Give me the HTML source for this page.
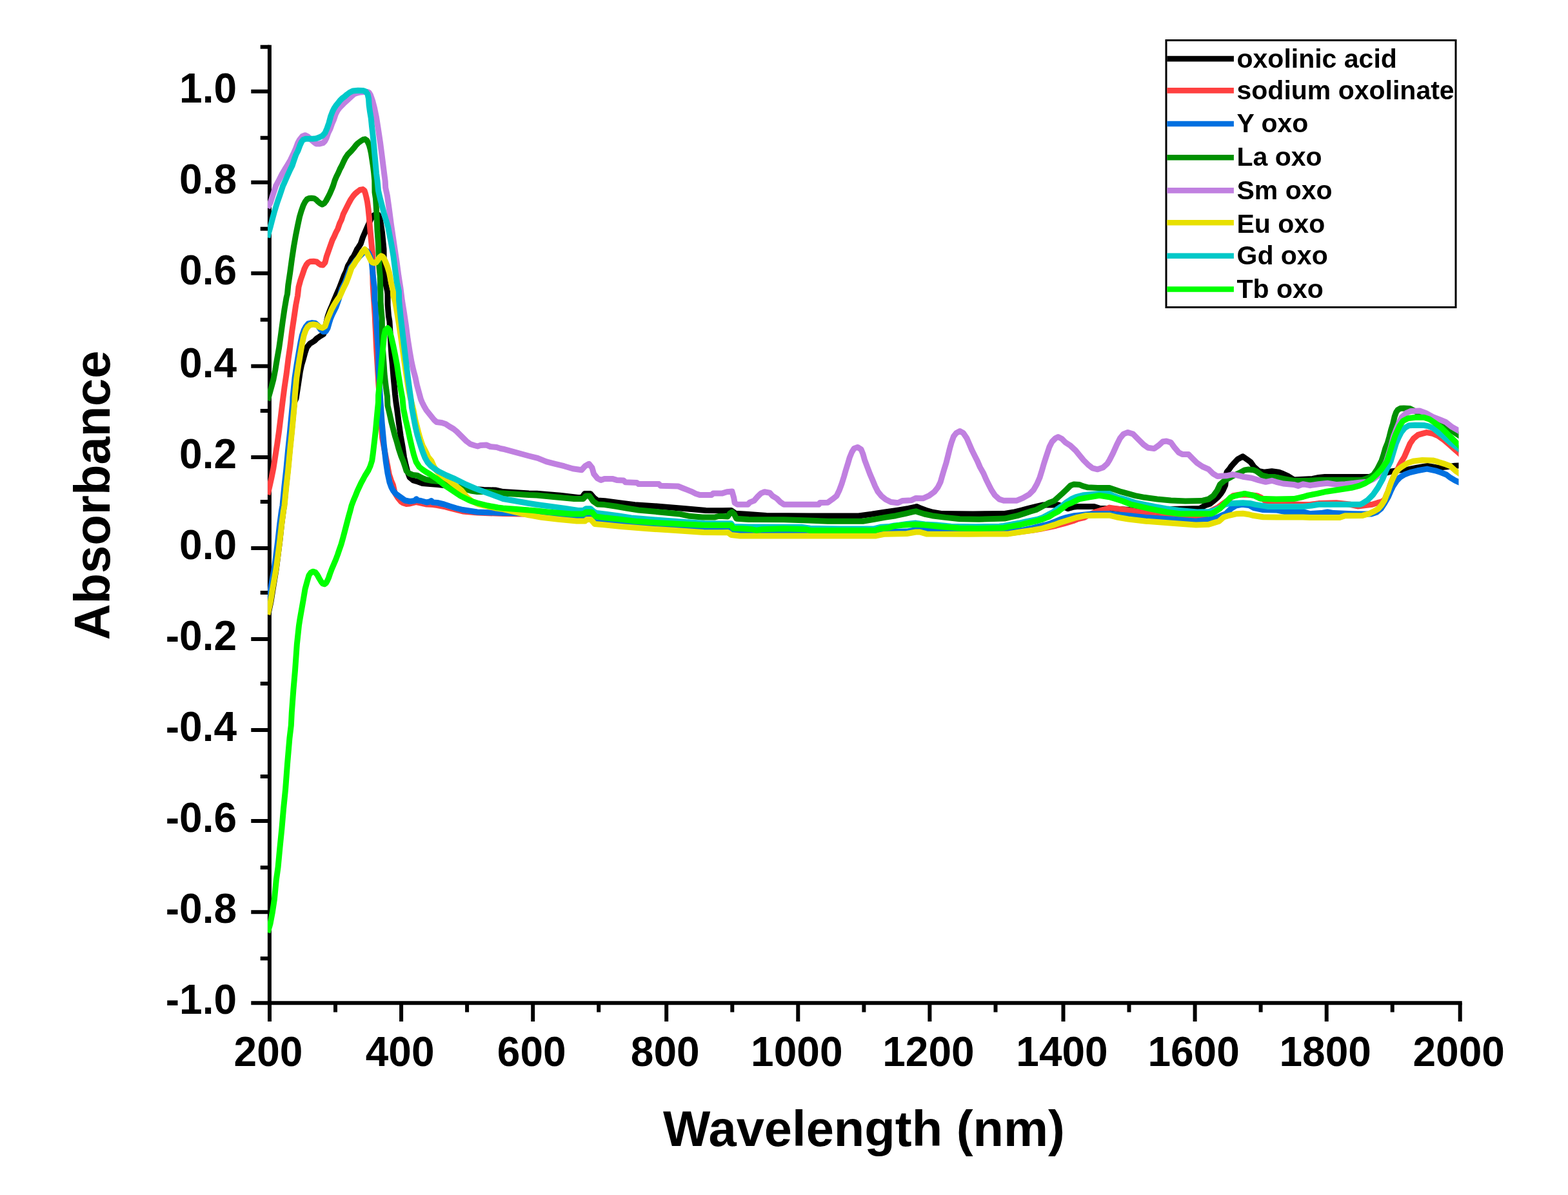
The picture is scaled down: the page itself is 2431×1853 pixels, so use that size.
<!DOCTYPE html>
<html lang="en">
<head>
<meta charset="utf-8">
<title>Absorbance vs Wavelength</title>
<style>
html,body{margin:0;padding:0;background:#fff;}
body{width:2431px;height:1853px;overflow:hidden;}
svg{display:block;}
text{font-family:"Liberation Sans", Arial, Helvetica, sans-serif;font-weight:bold;fill:#000;}
.tk{font-size:64px;}
.lg{font-size:41px;}
.ti{font-size:77.7px;}
.ax{stroke:#000;stroke-width:6;fill:none;stroke-linecap:butt;}
</style>
</head>
<body>
<svg xmlns="http://www.w3.org/2000/svg" width="2431" height="1853" viewBox="0 0 2431 1853">
<rect x="0" y="0" width="2431" height="1853" fill="#ffffff"/>

<g class="ax">
<path d="M417.9 69.7V1558.3"/>
<path d="M389.3 1555.3H2266.7"/>
<path d="M403.7 72.7H417.9M389.3 141.7H417.9M403.7 213.7H417.9M389.3 282.7H417.9M403.7 354.8H417.9M389.3 423.8H417.9M403.7 495.8H417.9M389.3 567.8H417.9M403.7 636.9H417.9M389.3 708.9H417.9M403.7 777.9H417.9M389.3 850.0H417.9M403.7 919.0H417.9M389.3 991.0H417.9M403.7 1060.0H417.9M389.3 1132.1H417.9M403.7 1204.1H417.9M389.3 1273.1H417.9M403.7 1345.2H417.9M389.3 1414.2H417.9M403.7 1486.2H417.9"/>
<path d="M418.0 1555.3V1583.9M520.0 1555.3V1569.6M622.1 1555.3V1583.9M724.1 1555.3V1569.6M826.2 1555.3V1583.9M928.2 1555.3V1569.6M1033.2 1555.3V1583.9M1135.3 1555.3V1569.6M1237.3 1555.3V1583.9M1339.4 1555.3V1569.6M1441.4 1555.3V1583.9M1543.5 1555.3V1569.6M1648.5 1555.3V1583.9M1750.5 1555.3V1569.6M1852.6 1555.3V1583.9M1954.6 1555.3V1569.6M2056.7 1555.3V1583.9M2158.7 1555.3V1569.6M2263.7 1555.3V1583.9"/>
</g>
<g class="tk" text-anchor="end">
<text x="367" y="158.6">1.0</text>
<text x="367" y="299.6">0.8</text>
<text x="367" y="440.7">0.6</text>
<text x="367" y="584.7">0.4</text>
<text x="367" y="725.8">0.2</text>
<text x="367" y="866.9">0.0</text>
<text x="367" y="1007.9">-0.2</text>
<text x="367" y="1149.0">-0.4</text>
<text x="367" y="1290.0">-0.6</text>
<text x="367" y="1431.1">-0.8</text>
<text x="367" y="1572.1">-1.0</text>
</g>
<g class="tk" text-anchor="middle">
<text x="416.0" y="1653">200</text>
<text x="620.1" y="1653">400</text>
<text x="824.2" y="1653">600</text>
<text x="1031.2" y="1653">800</text>
<text x="1235.3" y="1653">1000</text>
<text x="1439.4" y="1653">1200</text>
<text x="1646.5" y="1653">1400</text>
<text x="1850.6" y="1653">1600</text>
<text x="2054.7" y="1653">1800</text>
<text x="2261.7" y="1653">2000</text>
</g>
<text class="ti" text-anchor="middle" x="1339.5" y="1777">Wavelength (nm)</text>
<text class="ti" text-anchor="middle" transform="translate(170.2 768) rotate(-90)">Absorbance</text>
<defs><clipPath id="cp"><rect x="415.0" y="0" width="1846.5" height="1552.0"/></clipPath></defs>
<g clip-path="url(#cp)" fill="none" stroke-width="9.0" stroke-linejoin="round" stroke-linecap="butt">
<path stroke="#000000" d="M415 956L420 933L422.7 916L425.5 899L428.3 882L430.9 861.5L433.8 838.5L436.6 812.5L439.3 792L440.5 784L443.3 755L446.3 728L449.1 698L452.1 669L455.1 637L456.3 624L459 618L462.4 596L465.4 576L467.5 566L469.7 558.7L472.7 547.7L475.7 538.7L480.7 532.7L484 530.8L487.6 528.5L491 525L496.6 521.1L501.6 518.1L504 512L505.5 502L508.1 490.6L511.1 482.1L514.1 475.1L517.1 467.6L520.1 460.6L522 456L525.5 448L530.5 435L533.5 427L536.5 421L539.5 412L542.5 407L545.5 401L548 398L551 392L553.5 386.5L556 383L559.2 378L562.5 368L566 360L569 353L573 344L576.5 337L580 333.5L583.5 332.5L586.5 333L589.5 341.5L592.5 360.5L595 386.5L595.2 408L595.5 423.5L597.5 438L600.5 451.5L601 456L601.1 473L602.5 490L603.9 498L605 516L606 536L607.1 552L608.5 566L610.1 586L611.5 600L612.6 612L614 624L615.5 634L618.2 655L621.2 676L624.2 693L626.5 709L629.4 722L632 732L635 740L641 745L648 747L655 749.5L667 750.5L680 751.5L700 754L730 758L750 759.6L768 760L780 762.6L820 764.9L832.3 765.3L868.3 768.3L896.2 771.4L903 770.3L906.4 765.5L915.3 765.5L920.7 771.7L926.2 776L937.7 776.8L960.2 779.6L984 782.7L1024.2 785.4L1060.2 788.4L1094.3 791.4L1120 791.8L1133.6 791.4L1140.4 796.2L1157.4 797.3L1188.1 799.6L1256.1 800L1331 800L1351.4 797.3L1369.1 794.5L1390.2 791.4L1408.6 788.4L1420 786L1421.4 785.4L1426.8 788.1L1435.7 791.3L1445.9 794.3L1460.8 796.6L1508.5 797L1556.1 796.6L1571.1 794.3L1583.3 791.3L1593.5 788.6L1606.5 785.4L1617.4 783L1640.5 782.7L1648.7 785.7L1655.5 788.7L1663.6 786.4L1671.8 785.4L1696.3 785.4L1705.8 788.6L1720 788.6L1758.1 791L1815.3 789.4L1860.2 788.6L1867.7 784.1L1876.5 780.9L1883.3 775.2L1888.1 771.1L1892.9 765.4L1896.3 760L1899.7 752.4L1900.4 745.3L1900.8 737.1L1902.1 731.7L1905.8 727.6L1908.5 723.5L1913.3 718.1L1918.7 712.3L1926.9 707.8L1935.1 713.7L1939.1 716.7L1943.9 723.5L1951.4 730.3L1959.6 732.1L1971.8 730.7L1982.7 732.1L1989.5 734.8L1996.3 737.8L2005.8 743.9L2019.9 743.2L2034.9 742.5L2044.4 740.5L2054 739.5L2123.4 739.5L2139.7 735.7L2158.8 730.7L2171 728.9L2183.3 727.9L2196.9 725.2L2213.2 722.5L2228.2 725.2L2241.8 724.1L2255.4 722.2L2260.9 722.1L2268.9 722"/>
<path stroke="#ff4040" d="M415 767L418 754L420.9 741L423.9 726L427 706L429.7 689L432.6 668.5L435.4 645.5L438 624L441.1 600L444.1 580L447.1 556L450 536L452.7 513.5L455.7 493.5L458.7 473L461.5 458.5L463 445L466 434L469 425.5L472 416.5L475 410.5L478 407L481.5 405.4L486 405.2L491 406L494 408.5L497 410.5L500.5 411L504 407L506.2 398L509.2 389.5L512.2 381L515.2 372.5L518.2 366.5L520.8 360.5L523.7 355L526.6 346.5L529.5 340.5L532.2 332L535.2 326L538.2 320L541 314.5L544 309L547.5 304L550.5 300.5L554 297.5L558 294.5L562.5 293.6L565 295.5L566.5 300L568 306L569.5 313L571 324L572.2 336L573.5 352L575 368L576.5 383L577.5 393L577.8 418L578.1 441L579 456L581.1 487.5L582.5 516L583.6 540.5L585.2 566L586.6 591L588 611L589 624L590 644L592.6 678.5L596.5 700L600.4 720L603.4 736L606.4 745L609.4 752L612 764L617 772L622 778L625 780L630 781.5L635.5 781L645.5 778.5L652.5 780L661.5 782L671 782.5L678 783.5L688.5 785.5L697.5 788L707.5 790.5L717.5 793L740 795L780 796.5L820 797.3L824.8 797.9L839.7 800.7L865.6 803.7L894.2 806.4L907.1 806.4L909.8 803.8L916 803.8L922.1 810.9L936.4 812.1L963.6 814.8L1001 817.9L1043.9 820.7L1090.9 823.8L1120 824.1L1128.2 823.4L1133.6 827.5L1147.2 828.8L1358.2 828.8L1371.8 826.1L1405.8 825.4L1420 823L1426.1 823.8L1436.3 826.5L1501.7 827.2L1562.9 827.2L1581.3 824.8L1601.7 822L1616 819.7L1626.2 817.7L1637.8 815L1651.4 811.3L1663.6 807.7L1670.5 805L1681.3 802.3L1689.5 797.9L1697.7 794L1707.2 791.3L1716.7 788.6L1720 787.1L1730.2 788.6L1749.9 791.3L1768.3 794L1784.7 796.7L1800.3 799.5L1815.3 801.1L1842.5 802.5L1860.9 802.5L1872.5 797L1879.3 791.3L1888.1 787.2L1897 780.4L1903.8 775.6L1911.9 768.6L1920.1 767.3L1929.6 767.1L1940.5 767.7L1948.7 768.6L1954.8 771.3L1962.3 777.3L1978.6 780.7L2020 782.4L2030.8 782.4L2044.4 780.6L2071.7 779.7L2092.1 782L2105.7 785L2119.3 783.3L2127.5 782.3L2135.6 779.7L2142.5 777.9L2146.8 774.5L2149.3 768.4L2152 762.2L2154.7 754.1L2157.4 746.6L2160.8 739.1L2163.5 733L2167 727.5L2169.7 721.4L2173.1 715.3L2177.2 708.5L2181.9 697.6L2186 688.1L2191.5 679.9L2198.3 674.4L2205.1 672.4L2211.9 670.6L2221.4 672.4L2229.6 675.8L2239.1 682.6L2248.6 690.8L2255.4 696.9L2260.9 701.7L2268.9 708.7"/>
<path stroke="#0070e0" d="M415 930.5L417 924L419.1 916L422.1 899L425.1 882L427.9 861.5L430.8 838.5L433.7 812.5L436.5 792L438 784L440.8 755L443.8 728L446.6 698L449.6 669L452.6 637L453.8 624L454 616L457 586L460 566L463 548L466 531L468.4 520L471.2 512L474.2 506.5L478 502L484 500.6L489 501.2L493 505L497 511L501 514.2L505 514L508 509L510 502L512.5 494L515 488L518 482L521 476L523.5 469L525.5 463L527 458L530 448L532.5 443L535 438L538 430L540.5 423L543.5 415.5L547.5 410L551 405L554.5 401L558 397L562 393L565.5 390L568.5 389L571.5 392.5L574.5 399L576.5 408L578 425L579.5 438L580.7 447L580.8 456L580.9 466L582.2 475L583.5 499.5L585 524L586.6 546L586.8 573.5L588 591L589.4 614.5L590 624L592.2 656L595.2 689L598.2 715.5L601 734L604 748L606.7 755.5L609.7 761L614 766L621 771L628 776L635.5 777.5L643 776.5L645.5 773.7L648 776L652.5 776.5L661.5 779L666 778L668.5 776.5L671 779L678 779.5L688.5 782L697.5 785L707.5 788L717.5 790.5L740 794L780 795.5L820 795.9L824.8 796.6L839.7 799.3L865.6 802.3L894.2 805L907.1 805L909.8 802.4L916 802.4L922.1 809.5L936.4 810.7L963.6 813.5L1001 816.6L1043.9 819.3L1090.9 822.4L1120 822.7L1128.2 822L1133.6 826.1L1147.2 827.5L1358.2 827.5L1371.8 824.8L1405.8 824.1L1420 821.6L1427.5 821.1L1452 824.1L1515.3 824.9L1564.3 823.5L1583.3 822.6L1597.6 819.5L1609.2 816.7L1620.8 814L1629.6 811.3L1636.4 808.6L1643.9 805.4L1653.4 802.4L1665.7 799.7L1692.2 797L1720 796.6L1722.7 796.7L1733.6 798.1L1750.6 799.5L1779.2 802.6L1816.6 805.3L1854.1 808.3L1877.9 805.3L1886.7 802.6L1893.5 799.5L1900.4 796.7L1908.5 788.8L1916 784.1L1925.5 782.3L1936.4 783.4L1943.9 787.7L1958.2 790.5L1978.6 790.9L1992.2 793.6L2020 793.6L2030.8 796.7L2048.5 795.6L2058.1 794L2067.6 795.6L2096.2 796.7L2112.5 797L2126.1 797L2134.3 794.2L2141.1 788.8L2146.5 780.6L2152 771.1L2156.1 761.6L2160.1 753.4L2165.6 745.2L2171 739.8L2177.8 735.7L2186 732.6L2197.6 729.8L2212.5 727.1L2225.5 729.8L2234.3 732.8L2242.5 736L2248.6 740.7L2256.1 745.2L2260.9 747.3L2268.9 750.8"/>
<path stroke="#009000" d="M415 621L421.1 599L424 588L426.7 574L429.7 556L432.7 539L435.5 519L438.2 499L441.1 479L444.1 461.5L445.5 456L446.8 442L449.8 422L452.5 402L455.5 382L458.5 365L461.5 350L464.5 336L467.2 327L470.2 318.5L473 313L476 309L479.5 307.5L483 307.3L487 307.7L490 309.5L493 312.5L496 315L499.5 317L503 315L505.5 311.5L508.5 306L511.5 300L514.5 293L516.5 288L519 280L521.5 274L524.5 268L527.1 262L529.8 257L532.5 251L535.5 245L539.2 239.5L544.7 234L549 229L552 225L555 222L559 219L563 216.5L566 215.8L569 218L571 222L572.5 225.5L574 231L575.5 238L577 248L578.5 258L579.7 268L580.8 280L581 298L582.5 308L584 333L585 358L586.5 378L587.2 398L588 415L589.3 428L589.5 438L590 456L590.1 468.5L591 481L592.2 493.5L592.6 521L593.5 542L594.9 561L596 579L597.4 592L599 605L600.4 614.5L601 629L603.9 641L606.7 654L609.7 665.5L612.7 677L615.5 686L618.2 696L622 707.5L625.5 716L628.2 724L630 730L634 734L640 736.5L647 737.2L654 741L660 743.5L670 745.5L683 746.8L690 750L700 752.5L710 755L720 758L730 761L740 762.5L750 762.6L760 762.6L770 764.5L780 765.1L820 767.6L832.3 767.9L860.8 770.7L890.1 773.4L904.4 773.4L908.2 768.9L913.9 768.9L919.4 777.1L926.2 781.9L937.1 782.6L955.4 785.3L971.1 788L990.1 791L1019.4 793.7L1052.8 796.9L1069.1 800.3L1088.8 801.9L1108.6 801.9L1114 800.5L1120 800.5L1128.2 800.9L1131.6 796.2L1135 794.1L1138.4 797.5L1141.8 804.3L1160.8 805.4L1215.3 805.7L1253.4 807.1L1283.3 808.3L1337.8 808.3L1355.5 805.4L1371.8 802.4L1388.8 799.7L1403.1 796.6L1415.4 793.7L1420 792.8L1424.1 794.3L1432.9 797L1445.2 799.7L1465.6 802.4L1488.1 804.8L1518 805.2L1557.5 804.1L1565 802.4L1577.2 799.7L1586.7 796.6L1597 793.2L1606.5 790.5L1616 785.4L1626.2 779.7L1634.4 776.6L1641.2 770.5L1647.3 765L1653.4 759.2L1659.6 753L1665 750.9L1673.2 751.4L1678.6 753.6L1686.8 755.8L1701.8 756.6L1720 756.6L1728.2 759.3L1738.4 762.7L1748.6 765.4L1760.2 768.6L1774.4 771.3L1794.2 774L1815.3 775.9L1837.7 777L1862.9 776.6L1873.8 774L1881.3 768.6L1887.4 760L1891.5 751.1L1898.3 745.3L1910.6 738.5L1921.5 733.4L1929.6 728.9L1935.7 728L1943.2 728.7L1948 730.7L1956.8 737.1L1965 739.2L1976.6 739.6L1990.9 742.6L2005.8 745.4L2020 745.4L2030.8 745.2L2047.2 744.3L2112.5 744.3L2122.7 740.5L2129.5 736L2135.4 727.3L2142 714.2L2145 705.1L2147.9 694.9L2151.3 686.7L2154 677.2L2156.7 666.3L2159.5 657.4L2162.2 645.9L2164.6 639.3L2167 635.7L2171 633.3L2176.5 632.9L2186 633.6L2194.2 637.7L2205.1 643.1L2218.7 649.3L2232.3 656.8L2241.8 662.2L2251.3 668.3L2260.9 674.4L2268.9 679.5"/>
<path stroke="#c080e0" d="M415 322.5L419.1 314.5L422.8 303L425.8 294L427.8 288L432.6 279L437.1 270.1L441.6 262.5L445.6 256.1L450.1 248.5L454.6 239L458.6 230L461.6 222L464.6 216.5L468.6 211.5L473 209.7L477 211.5L481 215.5L484.1 218.2L487.6 221.2L490 222.9L495 223.1L500.7 221.7L503.7 218.7L505.9 214.4L508.9 205.9L511.9 199.9L514.9 191.4L517.4 185.9L520.4 176.9L523.5 171L526.7 166.7L529.7 163.7L532.7 160.7L535.7 158L538.7 155.2L541.7 152.5L544.7 149.7L549 145.9L554 144L559 142.9L565 142.5L570 142.5L572 143.5L574.5 147.5L577.5 156L580.5 167.5L583.5 182L586.5 201L589.5 221L592.3 242.5L595 264L597.2 281L597.7 291L600.5 304L603.5 325.5L606.3 347L609.3 367.5L612.3 388L615.3 408L618 428L621 447L623.4 466L626.4 484.5L629.4 504.5L632.2 526L635.2 545L638 561L640.9 574L643.9 585L646.4 597L649.4 608L652.4 619L654.5 624L657.5 630L661 636L665 641L669 646L673 651L677 654.5L685 655.5L691 657.5L697 661.5L703 665L708 669L713 674L718 679L723 684L729 688.5L735 690.5L740.5 692L745 690.5L754 690L760 692.5L770 693.5L776 695.5L780 696.2L820 707L833.6 710.4L847.2 715.9L860.8 719.3L874.4 722.7L888.1 726.8L901.7 728.8L907.1 722.7L913.2 719.3L918 725.4L920.7 734.9L926.2 741.7L931.6 744.4L937.1 742.4L949.3 742.4L956.1 744.4L967 745.1L969.7 747.8L987.4 748.5L990.1 750.6L1021.5 750.6L1024.2 753.3L1051.4 754L1058.2 756.7L1065 759.4L1071.8 762.1L1078.6 765.5L1085.4 767.6L1103.1 767.6L1105.8 764.9L1120 764.9L1126.8 762.8L1135 762.1L1137.7 771.7L1139.1 779.8L1143.1 782.3L1159.5 782.3L1162.2 779.2L1169 776.4L1174.4 770.3L1179.9 764.9L1185.3 762.8L1193.5 764.2L1197.6 768.9L1204.4 773L1209.8 778.5L1215.3 782.3L1269.7 782.3L1271.1 779.6L1283.3 779.2L1290.1 774.4L1297 768.9L1301 760.8L1305.1 749.9L1308.5 739L1311.2 729.5L1314.6 718.6L1317.4 709.1L1320.8 700.9L1324.2 695.4L1329.6 693.4L1335.1 696.8L1337.8 703.6L1340.5 713.1L1344.6 724L1348.7 734.9L1352.8 744.4L1356.8 754L1360.9 762.1L1366.4 768.9L1373.2 774.4L1381.3 778.5L1392.2 779.8L1399 776.4L1412.6 775.8L1420 772.4L1430.9 772.8L1440.4 768.7L1448.6 762.6L1454 755.8L1458.1 747.6L1460.8 738.1L1463.6 728.5L1467 717.6L1469.7 706.8L1472.4 695.9L1475.1 686.3L1478.5 676.8L1482.6 671.4L1488.1 668.6L1493.5 671.4L1498.9 679.5L1503 689.1L1507.1 698.6L1511.2 706.8L1515.3 714.9L1519.4 724.4L1524.8 734L1528.9 743.5L1533 751.7L1537.1 759.8L1542.5 768L1549.3 774.1L1556.1 776.2L1576.5 776.2L1586.1 772.1L1595.6 766.6L1602.4 759.8L1607.8 750.3L1611.9 740.8L1615.3 729.9L1618 720.4L1621.5 709.5L1624.2 701.3L1626.9 693.1L1631 685L1636.4 679.5L1640.5 677.5L1646 680.2L1651.4 685.7L1659.6 691.1L1667.7 698.6L1673.2 705.4L1680 713.6L1686.8 720.4L1693.6 725.8L1701.8 727.8L1709.9 725.1L1716.7 719L1720 713.6L1725.4 703.1L1730.9 690.8L1736.3 679.9L1741.8 673.1L1748.6 670.4L1756.8 673.1L1764.9 681.3L1773.1 689.5L1779.9 694.2L1789.4 695.6L1796.2 690.8L1803 684.7L1808.5 684L1815.3 686.1L1820.7 693.6L1827.5 701.7L1833 704.4L1842.5 704.4L1849.3 711.3L1856.1 718.1L1864.3 723.5L1873.8 727.6L1880.6 734.4L1887.4 738.5L1901 737.8L1910.6 735.8L1918.7 737.1L1926.9 739.2L1940.5 741.2L1951.4 744.6L1962.3 747.3L1971.8 745.3L1978.6 747.3L1989.5 750L2005.8 751.4L2012.6 753.4L2020 750.7L2030.8 752.7L2044.4 750.7L2058.1 749.3L2071.7 751.4L2085.3 750.7L2098.9 749.3L2109.8 747.9L2119.3 747.3L2128.8 743.2L2137 737.1L2142.5 728.9L2149.3 715.3L2155.4 696.2L2160.4 677.2L2164.5 666.3L2168.3 656.8L2173.1 647.2L2180.6 640.4L2187.4 637.4L2201 637L2210.5 640.4L2221.4 646.5L2232.3 650.6L2241.8 654.7L2251.3 662.2L2260.9 667.6L2268.9 672.1"/>
<path stroke="#e8e000" d="M415 953L419.4 933L422.1 916L425.1 899L428.1 882L430.9 861.5L433.8 838.5L436.7 812.5L439.5 792L441 784L443.8 755L446.8 728L449.6 698L452.6 669L455.6 637L456.8 624L457 616L459.8 586L462.8 566L465.8 548L468.8 531L471.2 520L474 512L477 507L481 503.8L486 503L491 504L495 507L500 508.5L504 506L506 500L508.5 493L511.5 486L514.5 479L517.5 473.5L520.5 468.5L523.5 464L526.5 460L528.5 456L532 448L534.5 443L537 438L540 430L542.5 423L545 415.5L549 410L552 405L555 401L558 396L561 391.5L564 388L565.5 386.5L567.5 389L570 394L572.5 399L575 404L577.5 407L580 407.8L583 407L586 403L588.5 399L591 396.8L593.5 398L595.5 401L597.5 405.5L600.5 413L603.5 423L606.5 438.5L609.5 451.5L609.6 457.5L612.6 467.5L615.6 484.5L618.6 503L621.6 523L624.4 543L627.1 562L630.1 582L633.1 602L636 616L638 624L640.9 635.5L643.9 651L646.4 661L649.4 673L652.4 683L655.4 691.5L658.4 697L661.4 703L664 709L669 715L673 724L677 730L681 734.5L686 738.8L695 744.5L702 749.8L710 756L716 761L724 771L732 777.5L742 781.9L752 784.4L769 788L780 789.5L820 798.9L824.8 799.6L839.7 802.3L865.6 805.3L894.2 808L907.1 808L909.8 805.4L916 805.4L922.1 812.5L936.4 813.7L963.6 816.5L1001 819.6L1043.9 822.3L1090.9 825.4L1120 825.7L1128.2 825.4L1133.6 829.5L1147.2 830.9L1358.2 830.9L1371.8 828.2L1405.8 827.5L1420 825L1426.1 825L1436.3 827.9L1501.7 828.2L1562.9 827.9L1581.3 825L1601.7 822L1616 819.3L1626.2 816.3L1635.1 813.6L1643.2 810.5L1652.1 807.7L1660.9 805L1669.8 802.3L1682.7 799.6L1705.8 799.2L1720 799.2L1731.6 802L1749.3 805L1776.5 808.2L1813.9 810.9L1854.1 814L1873.8 813.3L1881.3 810.9L1890.1 808.2L1897 802L1905.8 799.3L1917.4 796.7L1926.9 796.3L1936.4 797.7L1941.9 799.3L1958.2 801.8L1978.6 802L2020 802L2030.8 802.4L2077.1 802.4L2085.3 799.7L2112.5 799.4L2122.7 796.5L2130.2 792.9L2137 788.8L2141.8 783.3L2146.5 775.9L2149.3 768.4L2152 762.2L2154.7 754.1L2157.4 746.6L2160.8 739.1L2163.5 733L2168.3 727.5L2173.8 723.4L2182.6 718L2192.1 714.9L2205.1 713.6L2221.4 713.9L2229.6 716.2L2239.8 719.4L2248.6 722.8L2256.8 730.3L2260.9 733L2268.9 738.3"/>
<path stroke="#00c8c8" d="M415 368.5L416 363L419.1 352L422.2 340L425.2 329L428 320L430.7 311.5L433.7 303L436.7 294L438.7 288L440.2 285L445 274L450 263L453 257L456 248L458.8 240L461.9 234L465.2 225L467.5 220L470 216.8L474 215.3L485 215.2L490 214.8L495 213L500 210.5L504 206L507 199L510 190.5L512.8 180L515.5 173L518 168L521 163.5L524 160L527 156L530.5 152.5L534 150L538 146.5L542 143.5L547 141L555 140.3L563 140.5L567 142L570 146L571.5 153L572.2 163.5L573.5 173L575.2 183L576.5 196L578 209L579.5 224L580.8 239L582.2 254L583.5 269L585 280L586.5 295.5L589.5 308.5L592.5 320L595.5 331.5L598.5 341.5L601.5 351.5L604 364.5L607 380L610 397.5L612.5 417.5L615.5 438.5L618.5 452L618.6 466L621.1 491L624.1 516L626.8 539L629.7 563L632.5 586L635.5 608L637.5 622L638.5 632L641.5 648.5L644.3 663L647 674.5L650 684.5L652.8 693.5L655.8 702L659 710L663 717L668 722.5L674 727L680 731L686 734L692 737L699 740L705 742.5L711 745.5L717 748.5L723 751.5L730 754.5L737 757.5L745 760.5L753 763.5L760 766L768 769L775 771.5L780 773.5L820 780.5L834.3 782.7L854.7 785.4L876.5 788.4L896.2 791.4L904.4 791.4L908.5 788.7L915.3 788.7L920.7 793.4L924.8 795.5L939.1 797.3L959.5 800L978.6 803L1011.9 805.8L1052.1 808.8L1092.2 811.6L1120 811.8L1133.6 811.8L1137 816.6L1160.8 817L1242.5 817.3L1256.1 819.3L1303.8 820L1354.1 820L1365 817.3L1377.3 816.6L1386.8 815L1394.3 814.3L1405.8 812.5L1420 811.1L1433.6 812.9L1452 814L1474.4 816.3L1512.6 816.7L1549.3 816.3L1556.1 815.4L1569.7 812.9L1579.3 811.3L1591.5 808.6L1607.8 805.4L1616.7 802.4L1626.9 797L1632.3 794.3L1638.5 789.8L1645.3 785.4L1652.8 779.3L1660.9 773.9L1668.4 770.5L1680 767.7L1704.5 765.4L1720 765.4L1724.1 768.1L1732.9 771.3L1744.5 774.3L1759.5 779.3L1774.4 782.4L1789.4 785.4L1807.8 788.6L1826.9 791.3L1856.1 794L1873.8 793.6L1882.7 791.3L1891.5 787.5L1898.3 782.7L1905.8 780.7L1926.9 779.7L1937.8 780.4L1946 782.4L1965 785.4L2020 785.4L2033.6 784L2044.4 782.3L2108.4 782.3L2112.5 780.6L2120.7 775.2L2128.8 767L2136.3 756.1L2143.8 742.5L2149.3 728.9L2156.1 715.3L2160.1 701.7L2164.2 688.1L2168.3 678.5L2172.4 670.4L2177.8 663.6L2184.6 659.7L2194.2 659.2L2207.8 659.5L2214.6 660.8L2221.4 663.6L2235 674.4L2248.6 686.3L2260.9 695.5L2268.9 701.5"/>
<path stroke="#00ff00" d="M415 1446L419 1432.4L422.4 1414.4L425.4 1394.5L428.3 1364.5L431.1 1344.6L433.9 1314.6L436.9 1284.7L439.5 1254.7L442.5 1224.8L445.5 1184.9L448.9 1144.9L451.3 1125L452.3 1105L454.9 1069.5L457.5 1039.5L460.3 999.6L463.5 969.6L465 960L467.1 948L470.1 931L473 913.5L476.1 902L479 892L482 887.8L485.5 886.2L489 887.5L492 891.5L495 897L498 902L500.5 905L503 905.8L505.5 904L507.5 900.5L509.5 896L511.5 890L514.5 882L517.5 875L520.5 868L523.5 860L526.2 852L529 844L531.8 834L534.7 823L537.7 811.5L540.7 800L543 792L545 784L548.2 775.5L551.2 768.5L554.2 761L557 755L559.8 749L562.8 743.5L565.7 738L568.5 733.5L571.3 729L574 723L576.7 714.5L578.2 704L579.6 692L581 680L582.3 668.5L583.8 652L585.2 637L586.5 624L586.6 613L588 599L589.5 585L591 568L592.5 552L594 536L595.5 521L597.5 512L601 508.8L603.4 511L606.4 521.7L609.4 534.7L612.4 549.2L615.4 565.2L617.9 582.5L620.9 601L623.9 617.5L625.5 634L629 651L632.5 666L635.5 680L638.5 693L641.5 705L645 716L650 724L655 728L660 731.5L666 735L672 739L678 743L684 748L690 753L696 757L702 761L708 765L714 769L720 772L726 775L732 777.5L740 780L748 782L756 784L764 785.5L772 787L780 788L820 791.1L826.1 791.4L849.9 793.9L886 796.9L904.4 796.9L908.5 794.3L918 794.3L923.4 800.9L937.1 802.7L962.2 805.4L988.1 808.6L1029.6 811.3L1088.1 814.3L1120 814.5L1133.6 814.5L1137 819.3L1151.3 819.7L1164.9 820.7L1173.1 822.4L1181.3 820.7L1215.3 819.7L1249.3 820.7L1256.1 822.4L1356.8 822.4L1365 819.7L1377.3 818.6L1385.4 815.9L1399 814.3L1420 813.2L1432.9 814L1458.8 816.7L1488.1 819L1515.3 819.5L1556.1 818.4L1565 816.7L1580.6 814L1591.5 811.3L1603.8 808.6L1616 805.4L1626.2 801.4L1633 797L1640.5 793.2L1646.6 788.4L1654.1 782.7L1662.3 779.3L1673.2 773.9L1688.1 771.1L1704.5 768.4L1715.4 770L1720 770.7L1740.4 777L1754 782.4L1767.6 785.4L1781.3 788.6L1794.9 791.3L1808.5 794L1828.9 796.7L1877.9 796.7L1883.3 794L1891.5 788.6L1897 782.4L1902.4 777L1907.8 771.3L1916 768.6L1929.6 765.4L1944.6 768.6L1954.1 773.2L1978.6 774L2005.8 773.6L2014 771.8L2020 770.5L2028.1 768.1L2042.4 765.4L2056.7 762.2L2076.4 759.2L2095.5 756.3L2107.7 753.1L2116.6 749.3L2126.1 743.2L2134.3 735.7L2141.8 727.5L2150.3 715.3L2154.7 701.7L2158.8 688.1L2163.5 674.4L2169.7 660.8L2175.1 652.7L2183.3 648.6L2194.2 647.2L2207.8 647.2L2216 649.9L2224.1 655.4L2235 663.6L2245.9 674.4L2255.4 684L2260.9 689.4L2268.9 697.3"/>
</g>
<rect x="1808.0" y="62.5" width="449.0" height="414.0" fill="#fff" stroke="#000" stroke-width="3"/>
<path d="M1809.3 91.1H1912.9" stroke="#000000" stroke-width="8.6" fill="none"/>
<text class="lg" x="1917.5" y="105.3">oxolinic acid</text>
<path d="M1809.3 140.4H1912.9" stroke="#ff4040" stroke-width="8.6" fill="none"/>
<text class="lg" x="1917.5" y="154.3">sodium oxolinate</text>
<path d="M1809.3 192.0H1912.9" stroke="#0070e0" stroke-width="8.6" fill="none"/>
<text class="lg" x="1917.5" y="205.4">Y oxo</text>
<path d="M1809.3 244.2H1912.9" stroke="#009000" stroke-width="8.6" fill="none"/>
<text class="lg" x="1917.5" y="256.8">La oxo</text>
<path d="M1809.3 295.4H1912.9" stroke="#c080e0" stroke-width="8.6" fill="none"/>
<text class="lg" x="1917.5" y="309.3">Sm oxo</text>
<path d="M1809.3 345.2H1912.9" stroke="#e8e000" stroke-width="8.6" fill="none"/>
<text class="lg" x="1917.5" y="360.6">Eu oxo</text>
<path d="M1809.3 396.7H1912.9" stroke="#00c8c8" stroke-width="8.6" fill="none"/>
<text class="lg" x="1917.5" y="409.9">Gd oxo</text>
<path d="M1809.3 448.5H1912.9" stroke="#00ff00" stroke-width="8.6" fill="none"/>
<text class="lg" x="1917.5" y="461.8">Tb oxo</text>
</svg>
</body>
</html>
